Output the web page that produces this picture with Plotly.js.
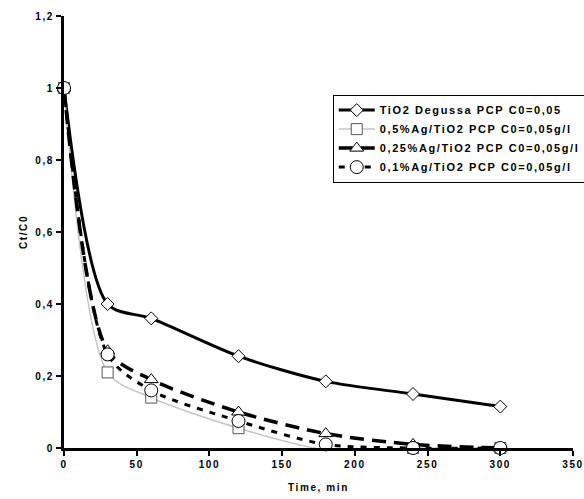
<!DOCTYPE html>
<html>
<head>
<meta charset="utf-8">
<script src="https://cdn.plot.ly/plotly-3.0.1.min.js"></script>
<style>
html,body{margin:0;padding:0;background:#fff;}
#chart{width:584px;height:499px;}
svg text{letter-spacing:1.6px;}
</style>
</head>
<body>
<div id="chart"></div>
<script>
var time = [0, 30, 60, 120, 180, 240, 300];
var degussa = [1, 0.40, 0.36, 0.255, 0.185, 0.15, 0.115];
var ag05 = [1, 0.21, 0.14, 0.055, -0.005, 0, 0];
var ag025 = [1, 0.27, 0.19, 0.10, 0.04, 0.01, 0];
var ag01 = [1, 0.26, 0.16, 0.075, 0.01, 0, 0];
var names = [
  "TiO2 Degussa PCP C0=0,05",
  "0,5%Ag/TiO2 PCP C0=0,05g/l",
  "0,25%Ag/TiO2 PCP C0=0,05g/l",
  "0,1%Ag/TiO2 PCP C0=0,05g/l"
];
var xTicks = [0, 50, 100, 150, 200, 250, 300, 350];
var yTicks = [0, 0.2, 0.4, 0.6, 0.8, 1, 1.2];

var F = "Liberation Sans, Arial, sans-serif";
var traces = [
  {x: time, y: degussa, name: names[0], mode: "lines+markers",
   line: {color: "#000", width: 3, shape: "spline", smoothing: 0.8},
   marker: {symbol: "diamond", size: 10, color: "#fff", line: {color: "#000", width: 1}}},
  {x: time, y: ag05, name: names[1], mode: "lines+markers",
   line: {color: "#c4c4c4", width: 1.5, shape: "spline", smoothing: 0.8},
   marker: {symbol: "square", size: 11, color: "#fff", line: {color: "#555", width: 1}}},
  {x: time, y: ag025, name: names[2], mode: "lines+markers",
   line: {color: "#000", width: 3.5, dash: "14px,8px", shape: "spline", smoothing: 0.8},
   marker: {symbol: "triangle-up", size: 12, color: "#fff", line: {color: "#000", width: 1}}},
  {x: time, y: ag01, name: names[3], mode: "lines+markers",
   line: {color: "#000", width: 3, dash: "6px,7px", shape: "spline", smoothing: 0.8},
   marker: {symbol: "circle", size: 13, color: "#fff", line: {color: "#000", width: 1}}}
];
traces.forEach(function(t){ t.cliponaxis = false; });

var layout = {
  width: 584, height: 499,
  margin: {l: 64, r: 11, t: 16, b: 51, autoexpand: false},
  paper_bgcolor: "#fff", plot_bgcolor: "#fff",
  separators: ", ",
  font: {family: F, size: 10, color: "#000", weight: "bold"},
  showlegend: true,
  legend: {
    x: 0.528, y: 0.818, xanchor: "left", yanchor: "top",
    bgcolor: "#fff", bordercolor: "#000", borderwidth: 1,
    font: {family: F, size: 11, color: "#000", weight: "bold"},
    itemwidth: 36, tracegroupgap: 0
  },
  xaxis: {
    range: [0, 350], tickvals: xTicks, ticktext: xTicks.map(String),
    showgrid: false, zeroline: false, showline: true, linecolor: "#000", linewidth: 3,
    ticks: "outside", ticklen: 5, tickwidth: 2, tickcolor: "#000",
    tickfont: {family: F, size: 10, weight: "bold"},
    title: {text: "Time, min", font: {family: F, size: 10, weight: "bold"}, standoff: 15}
  },
  yaxis: {
    range: [0, 1.2], tickvals: yTicks,
    ticktext: yTicks.map(function(v){ return String(v).replace(".", ","); }),
    showgrid: false, zeroline: false, showline: true, linecolor: "#000", linewidth: 3,
    ticks: "outside", ticklen: 5, tickwidth: 2, tickcolor: "#000",
    tickfont: {family: F, size: 10, weight: "bold"},
    title: {text: "Ct/C0", font: {family: F, size: 10, weight: "bold"}, standoff: 6}
  }
};
Plotly.newPlot("chart", traces, layout, {staticPlot: true, displayModeBar: false});
</script>
</body>
</html>
